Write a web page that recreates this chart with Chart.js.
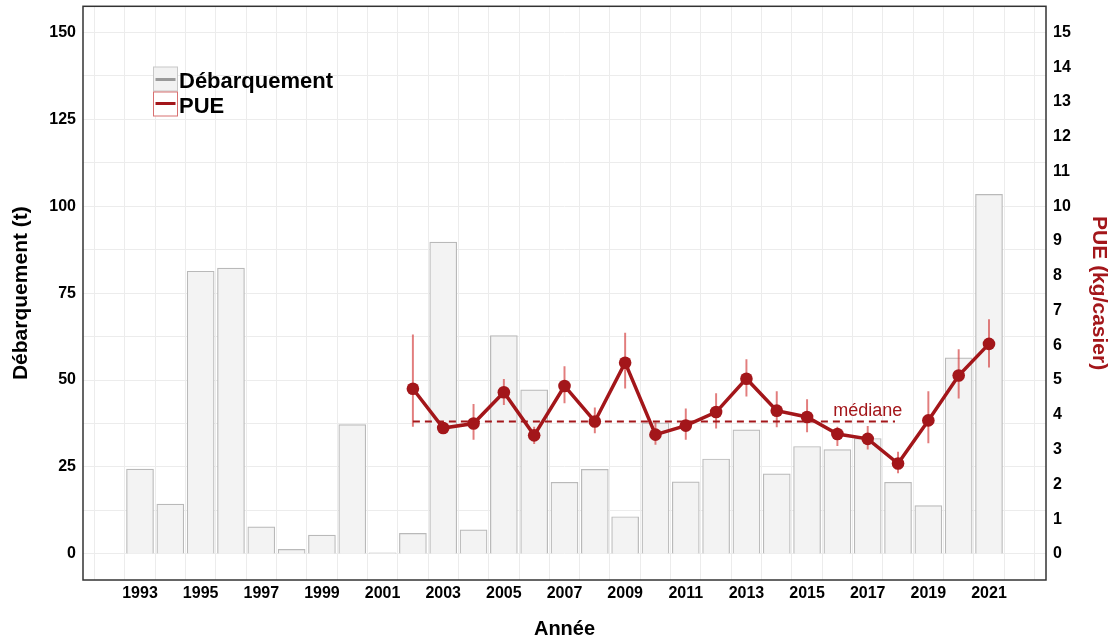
<!DOCTYPE html>
<html>
<head>
<meta charset="utf-8">
<script src="https://cdn.jsdelivr.net/npm/chart.js@4.4.1/dist/chart.umd.min.js"></script>
<style>
html,body{margin:0;padding:0;background:#fff;}
canvas{display:block;}
</style>
</head>
<body>
<canvas id="c" width="1115" height="640"></canvas>
<script>
// ---- data ----
const years = [1993,1994,1995,1996,1997,1998,1999,2000,2001,2002,2003,2004,2005,2006,2007,2008,2009,2010,2011,2012,2013,2014,2015,2016,2017,2018,2019,2020,2021];
const landings = [24.4,14.3,81.3,82.2,7.8,1.3,5.4,37.2,0.3,5.9,89.7,6.9,62.8,47.2,20.6,24.3,10.7,37.7,20.7,27.3,35.7,23.0,30.9,30.0,33.2,20.6,13.9,56.4,103.4];
const pueYears = [2002,2003,2004,2005,2006,2007,2008,2009,2010,2011,2012,2013,2014,2015,2016,2017,2018,2019,2020,2021];
const pue = [4.75,3.62,3.75,4.65,3.41,4.83,3.81,5.50,3.43,3.69,4.08,5.04,4.12,3.94,3.45,3.31,2.60,3.84,5.13,6.04];
const pueLow = [3.67,3.50,3.29,4.29,3.17,4.34,3.48,4.77,3.15,3.29,3.62,4.54,3.65,3.51,3.11,3.01,2.33,3.19,4.48,5.37];
const pueHigh = [6.30,3.74,4.30,5.02,3.65,5.39,4.20,6.35,3.77,4.17,4.61,5.59,4.67,4.44,3.65,3.67,2.93,4.67,5.88,6.74];
const medianValue = 3.81;
const medianFrom = 2002, medianTo = 2017.9;
const medianLabel = 'médiane';
const xTickValues = [1992,1993,1994,1995,1996,1997,1998,1999,2000,2001,2002,2003,2004,2005,2006,2007,2008,2009,2010,2011,2012,2013,2014,2015,2016,2017,2018,2019,2020,2021,2022];
const leftTickValues = [0,12.5,25,37.5,50,62.5,75,87.5,100,112.5,125,137.5,150];
const rightTickValues = [0,1,2,3,4,5,6,7,8,9,10,11,12,13,14,15];

const RED = '#a3161a';
const FONT = "'Liberation Sans', Arial, sans-serif";

const decor = {
  id: 'decor',
  afterDraw(chart) {
    const ctx = chart.ctx, a = chart.chartArea;
    const xs = chart.scales.x, y2 = chart.scales.y2;
    ctx.save();
    // panel border
    ctx.strokeStyle = '#333';
    ctx.lineWidth = 1.5;
    ctx.strokeRect(a.left, a.top, a.right - a.left, a.bottom - a.top);
    // median label
    ctx.fillStyle = RED;
    ctx.font = "18px " + FONT;
    ctx.textAlign = 'center';
    ctx.textBaseline = 'alphabetic';
    ctx.fillText(medianLabel, xs.getPixelForValue(2017), y2.getPixelForValue(3.98));
    // axis titles
    const midY = (a.top + a.bottom) / 2;
    ctx.font = "bold 20px " + FONT;
    ctx.fillStyle = '#000';
    ctx.textBaseline = 'middle';
    ctx.fillText('Année', (a.left + a.right) / 2, 629);
    ctx.font = "bold 21px " + FONT;
    ctx.save();
    ctx.translate(21, midY);
    ctx.rotate(-Math.PI / 2);
    ctx.fillText('Débarquement (t)', 0, 0);
    ctx.restore();
    ctx.save();
    ctx.translate(1099, midY);
    ctx.rotate(Math.PI / 2);
    ctx.fillStyle = RED;
    ctx.fillText('PUE (kg/casier)', 0, 0);
    ctx.restore();
    // legend
    ctx.lineWidth = 1;
    ctx.fillStyle = '#f2f2f2';
    ctx.strokeStyle = '#c8c8c8';
    ctx.fillRect(153.5, 67, 24, 24);
    ctx.strokeRect(153.5, 67, 24, 24);
    ctx.strokeStyle = '#9a9a9a';
    ctx.lineWidth = 3;
    ctx.beginPath(); ctx.moveTo(155.5, 79.5); ctx.lineTo(175.5, 79.5); ctx.stroke();
    ctx.fillStyle = '#fff';
    ctx.strokeStyle = '#d87070';
    ctx.lineWidth = 1;
    ctx.fillRect(153.5, 92, 24, 24);
    ctx.strokeRect(153.5, 92, 24, 24);
    ctx.strokeStyle = RED;
    ctx.lineWidth = 3;
    ctx.beginPath(); ctx.moveTo(155.5, 103.5); ctx.lineTo(175.5, 103.5); ctx.stroke();
    ctx.fillStyle = '#000';
    ctx.font = "bold 22px " + FONT;
    ctx.textAlign = 'left';
    ctx.textBaseline = 'alphabetic';
    ctx.fillText('Débarquement', 179, 87.5);
    ctx.fillText('PUE', 179, 112.5);
    ctx.restore();
  }
};

new Chart(document.getElementById('c'), {
  type: 'bar',
  data: {
    datasets: [
      {
        type: 'line',
        label: 'PUE',
        data: pueYears.map((x, i) => ({x, y: pue[i]})),
        yAxisID: 'y2',
        borderColor: RED,
        backgroundColor: RED,
        borderWidth: 3.5,
        pointRadius: 6.3,
        pointBorderWidth: 0,
        pointBackgroundColor: RED,
        tension: 0,
        order: 1
      },
      {
        type: 'line',
        label: 'median',
        data: [{x: medianFrom, y: medianValue}, {x: medianTo, y: medianValue}],
        yAxisID: 'y2',
        borderColor: RED,
        borderWidth: 2,
        borderDash: [7, 5],
        pointRadius: 0,
        order: 2
      },
      {
        type: 'bar',
        label: 'err',
        data: pueYears.map((x, i) => ({x, y: [pueLow[i], pueHigh[i]]})),
        yAxisID: 'y2',
        backgroundColor: 'rgba(214,70,70,0.7)',
        borderWidth: 0,
        barThickness: 1.3,
        grouped: false,
        order: 3
      },
      {
        type: 'bar',
        label: 'Débarquement',
        data: years.map((x, i) => ({x, y: landings[i]})),
        yAxisID: 'y',
        backgroundColor: '#f3f3f3',
        borderColor: '#b9b9b9',
        borderWidth: 1.2,
        barThickness: 27,
        grouped: false,
        order: 4
      }
    ]
  },
  options: {
    responsive: false,
    animation: false,
    devicePixelRatio: 1,
    layout: {padding: {top: 4, left: 0, right: 0, bottom: 0}},
    plugins: {legend: {display: false}, tooltip: {enabled: false}},
    scales: {
      x: {
        type: 'linear',
        min: 1991.12,
        max: 2022.88,
        offset: false,
        afterBuildTicks: s => { s.ticks = xTickValues.map(v => ({value: v})); },
        afterFit: s => { s.height = 60; s.paddingLeft = 0; s.paddingRight = 0; },
        grid: {color: '#ececec', lineWidth: 1, drawTicks: false},
        border: {display: false},
        ticks: {
          autoSkip: false, maxRotation: 0, padding: 4,
          color: '#000', font: {family: FONT, size: 16, weight: 'bold'},
          callback: v => (v % 2 === 1 ? String(v) : '')
        }
      },
      y: {
        position: 'left',
        min: -7.5,
        max: 157.5,
        afterBuildTicks: s => { s.ticks = leftTickValues.map(v => ({value: v})); },
        afterFit: s => { s.width = 83; s.paddingTop = 0; s.paddingBottom = 0; },
        grid: {color: '#ececec', lineWidth: 1, drawTicks: false},
        border: {display: false},
        ticks: {
          padding: 7, color: '#000', font: {family: FONT, size: 16, weight: 'bold'},
          callback: v => (v % 25 === 0 ? String(v) : '')
        }
      },
      y2: {
        position: 'right',
        min: -0.75,
        max: 15.75,
        afterBuildTicks: s => { s.ticks = rightTickValues.map(v => ({value: v})); },
        afterFit: s => { s.width = 69; s.paddingTop = 0; s.paddingBottom = 0; },
        grid: {display: false, drawTicks: false},
        border: {display: false},
        ticks: {
          padding: 7, color: '#000', font: {family: FONT, size: 16, weight: 'bold'},
          callback: v => String(v)
        }
      }
    }
  },
  plugins: [decor]
});
</script>
</body>
</html>
